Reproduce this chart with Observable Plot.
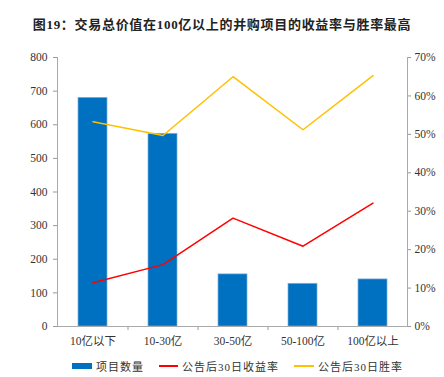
<!DOCTYPE html>
<html><head><meta charset="utf-8">
<script src="https://cdn.jsdelivr.net/npm/d3@7"></script>
<script src="https://cdn.jsdelivr.net/npm/@observablehq/plot@0.6"></script>
<style>
body{margin:0;background:#fff;width:444px;height:377px;overflow:hidden;font-family:"Liberation Serif","Noto Sans CJK SC",serif;}
#title{height:44px;line-height:50px;text-align:center;font-weight:bold;font-size:13px;letter-spacing:0.7px;color:#222;font-family:"Liberation Serif","Noto Sans CJK SC",serif;}
#legend{position:relative;height:23px;font-size:11px;color:#333;}
.item{position:absolute;top:4px;white-space:nowrap;display:flex;align-items:center;}
.sw{display:inline-block;}
.lt{margin-left:4px;letter-spacing:1px;}
</style></head><body>
<div id="title">图19：交易总价值在100亿以上的并购项目的收益率与胜率最高</div>
<div id="chart"></div>
<div id="legend"></div>
<script>
const categories = ["10亿以下","10-30亿","30-50亿","50-100亿","100亿以上"];
const projectCount = [680, 573, 155, 127, 140];
const return30 = [11.4, 16.1, 28.2, 20.9, 32.1];
const winRate30 = [53.3, 49.7, 65.0, 51.2, 65.3];
const leftTicks = [0,100,200,300,400,500,600,700,800];
const rightTicks = [0,10,20,30,40,50,60,70];
const seriesNames = ["项目数量","公告后30日收益率","公告后30日胜率"];

const pct = v => v * 800 / 70;
const bars = categories.map((c,i)=>({cat:c, v:projectCount[i]}));
const ret = categories.map((c,i)=>({cat:c, v:pct(return30[i])}));
const win = categories.map((c,i)=>({cat:c, v:pct(winRate30[i])}));
const font = '"Liberation Serif","Noto Sans CJK SC",serif';

const plot = Plot.plot({
  width: 444, height: 310,
  marginTop: 13, marginBottom: 28, marginLeft: 57, marginRight: 37,
  style: {fontFamily: font, fontSize: "11px", color: "#333", background: "#fff"},
  x: {domain: categories, type: "band", paddingInner: 0.59, paddingOuter: 0.295, label: null},
  y: {domain: [0, 800], label: null},
  marks: [
    Plot.barY(bars, {x: "cat", y: "v", fill: "#0070C0", stroke: "#7fb2dd", strokeWidth: 0.7}),
    Plot.line(ret, {x: "cat", y: "v", stroke: "#FF0000", strokeWidth: 1.5}),
    Plot.line(win, {x: "cat", y: "v", stroke: "#FFC000", strokeWidth: 1.5}),
    Plot.axisY(leftTicks, {anchor: "left", tickSize: 4, tickPadding: 6, stroke: "#999", fontSize: 11.5, label: null}),
    Plot.axisY(rightTicks.map(pct), {anchor: "right", tickSize: 3, tickPadding: 4, stroke: "#999", tickFormat: (d) => Math.round(d*70/800) + "%", fontSize: 11.5, label: null}),
    Plot.axisX({tickSize: 0, tickPadding: 10, fontSize: 11.5, label: null}),
    Plot.ruleX(categories.slice(1), {x: d => d, dx: -35, y1: 0, y2: -12, stroke: "#999"}),
    Plot.frame({anchor: "left", stroke: "#aaa"}),
    Plot.frame({anchor: "right", stroke: "#aaa"}),
    Plot.frame({anchor: "bottom", stroke: "#aaa"})
  ]
});
document.getElementById("chart").appendChild(plot);

const lg = document.getElementById("legend");
const items = [
  {x:72, sw:'<span class="sw" style="width:20px;height:6px;background:#0070C0;"></span>'},
  {x:159, sw:'<span class="sw" style="width:19px;height:2px;background:#FF0000;"></span>'},
  {x:294, sw:'<span class="sw" style="width:20px;height:2px;background:#FFC000;"></span>'}
];
items.forEach((it,i)=>{
  const s = document.createElement("div");
  s.className = "item";
  s.style.left = it.x + "px";
  s.innerHTML = it.sw + '<span class="lt">' + seriesNames[i] + '</span>';
  lg.appendChild(s);
});
</script>
</body></html>
